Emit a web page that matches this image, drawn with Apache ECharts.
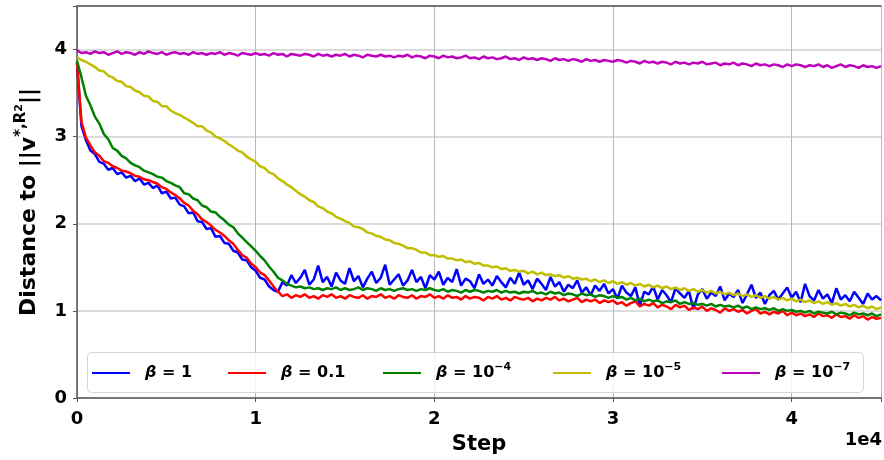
<!DOCTYPE html>
<html><head><meta charset="utf-8">
<script src="https://cdn.jsdelivr.net/npm/echarts@6/dist/echarts.min.js"></script>
<style>html,body{margin:0;padding:0;background:#fff}#c{width:884px;height:460px}</style>
</head><body><div id="c"></div>
<script>
const steps = [0,250,500,750,1000,1250,1500,1750,2000,2250,2500,2750,3000,3250,3500,3750,4000,4250,4500,4750,5000,5250,5500,5750,6000,6250,6500,6750,7000,7250,7500,7750,8000,8250,8500,8750,9000,9250,9500,9750,
10000,10250,10500,10750,11000,11250,11500,11750,12000,12250,12500,12750,13000,13250,13500,13750,14000,14250,14500,14750,15000,15250,15500,15750,16000,16250,16500,16750,17000,17250,17500,17750,18000,18250,18500,18750,19000,19250,19500,19750,
20000,20250,20500,20750,21000,21250,21500,21750,22000,22250,22500,22750,23000,23250,23500,23750,24000,24250,24500,24750,25000,25250,25500,25750,26000,26250,26500,26750,27000,27250,27500,27750,28000,28250,28500,28750,29000,29250,29500,29750,
30000,30250,30500,30750,31000,31250,31500,31750,32000,32250,32500,32750,33000,33250,33500,33750,34000,34250,34500,34750,35000,35250,35500,35750,36000,36250,36500,36750,37000,37250,37500,37750,38000,38250,38500,38750,39000,39250,39500,39750,
40000,40250,40500,40750,41000,41250,41500,41750,42000,42250,42500,42750,43000,43250,43500,43750,44000,44250,44500,44750,45000];

const beta1 = [3.85,3.12,2.96,2.84,2.80,2.71,2.69,2.62,2.64,2.57,2.59,2.53,2.55,2.49,2.52,2.45,2.47,2.41,2.44,2.35,2.37,2.29,2.30,2.22,2.20,2.12,2.13,2.03,2.02,1.94,1.95,1.85,1.86,1.78,1.77,1.69,1.67,1.59,1.58,1.50,
1.46,1.38,1.36,1.28,1.24,1.22,1.33,1.29,1.41,1.32,1.38,1.47,1.30,1.36,1.52,1.33,1.39,1.28,1.44,1.35,1.31,1.49,1.34,1.40,1.27,1.37,1.45,1.32,1.38,1.53,1.30,1.36,1.42,1.29,1.35,1.47,1.33,1.39,1.26,1.41,
1.36,1.45,1.30,1.38,1.33,1.48,1.29,1.37,1.34,1.26,1.42,1.31,1.36,1.29,1.40,1.33,1.27,1.38,1.31,1.44,1.30,1.35,1.25,1.37,1.31,1.24,1.39,1.28,1.33,1.22,1.30,1.26,1.35,1.21,1.27,1.18,1.29,1.23,1.31,1.20,
1.25,1.14,1.29,1.21,1.17,1.27,1.06,1.22,1.19,1.28,1.13,1.24,1.18,1.10,1.26,1.20,1.15,1.23,1.02,1.19,1.25,1.14,1.21,1.17,1.28,1.12,1.20,1.16,1.24,1.09,1.19,1.30,1.15,1.21,1.08,1.18,1.23,1.13,1.20,1.27,
1.15,1.22,1.10,1.31,1.17,1.12,1.24,1.14,1.19,1.09,1.26,1.13,1.18,1.11,1.22,1.15,1.08,1.20,1.13,1.17,1.12];

const beta01 = [3.85,3.17,2.99,2.90,2.82,2.78,2.72,2.70,2.66,2.64,2.61,2.60,2.58,2.55,2.54,2.51,2.50,2.48,2.46,2.42,2.40,2.36,2.33,2.29,2.24,2.21,2.15,2.11,2.05,2.02,1.98,1.93,1.90,1.86,1.81,1.77,1.70,1.64,1.61,1.54,
1.50,1.44,1.41,1.35,1.28,1.22,1.17,1.19,1.15,1.18,1.16,1.19,1.15,1.17,1.14,1.18,1.16,1.19,1.15,1.17,1.14,1.18,1.16,1.15,1.18,1.14,1.17,1.16,1.19,1.15,1.17,1.14,1.18,1.16,1.15,1.18,1.14,1.17,1.16,1.19,
1.15,1.17,1.14,1.18,1.15,1.16,1.13,1.17,1.14,1.16,1.15,1.12,1.16,1.14,1.17,1.13,1.15,1.12,1.16,1.14,1.13,1.15,1.11,1.14,1.12,1.15,1.13,1.16,1.12,1.14,1.11,1.13,1.15,1.10,1.13,1.11,1.13,1.09,1.12,1.10,
1.12,1.08,1.10,1.06,1.09,1.11,1.05,1.08,1.06,1.09,1.04,1.07,1.05,1.02,1.07,1.04,1.06,1.01,1.04,1.02,1.05,1.00,1.03,1.01,0.98,1.03,1.00,1.02,0.99,1.01,0.97,1.00,1.02,0.97,0.99,0.96,0.99,0.97,1.00,0.95,
0.98,0.95,0.97,0.94,0.96,0.93,0.97,0.94,0.95,0.92,0.96,0.93,0.94,0.91,0.95,0.92,0.94,0.90,0.93,0.91,0.92];

const beta1e4 = [3.87,3.68,3.47,3.36,3.23,3.15,3.03,2.97,2.87,2.84,2.78,2.75,2.70,2.67,2.65,2.61,2.59,2.57,2.54,2.53,2.49,2.47,2.44,2.42,2.35,2.34,2.29,2.27,2.21,2.19,2.14,2.13,2.08,2.04,1.99,1.96,1.89,1.84,1.79,1.74,
1.69,1.63,1.58,1.51,1.45,1.38,1.35,1.31,1.29,1.27,1.28,1.26,1.27,1.25,1.26,1.24,1.26,1.25,1.27,1.24,1.26,1.24,1.25,1.27,1.24,1.26,1.25,1.23,1.26,1.24,1.25,1.23,1.25,1.26,1.24,1.25,1.23,1.25,1.24,1.26,
1.24,1.23,1.25,1.22,1.24,1.23,1.21,1.24,1.22,1.24,1.23,1.21,1.23,1.22,1.24,1.21,1.23,1.21,1.22,1.20,1.22,1.21,1.23,1.20,1.21,1.19,1.22,1.20,1.21,1.18,1.20,1.19,1.17,1.20,1.18,1.19,1.16,1.18,1.17,1.15,
1.17,1.15,1.16,1.13,1.15,1.12,1.14,1.11,1.13,1.11,1.12,1.09,1.11,1.10,1.12,1.08,1.10,1.08,1.09,1.07,1.08,1.06,1.08,1.05,1.07,1.05,1.06,1.04,1.06,1.03,1.05,1.02,1.04,1.02,1.03,1.01,1.03,1.00,1.02,1.00,
1.01,0.99,1.00,0.98,1.00,0.97,0.99,0.98,0.97,0.99,0.96,0.98,0.97,0.95,0.98,0.96,0.97,0.95,0.97,0.94,0.96];

const beta1e5 = [3.91,3.88,3.86,3.83,3.80,3.76,3.75,3.70,3.68,3.64,3.63,3.58,3.57,3.53,3.51,3.47,3.46,3.41,3.40,3.35,3.35,3.30,3.27,3.25,3.22,3.19,3.16,3.12,3.12,3.07,3.05,3.00,2.98,2.95,2.91,2.88,2.84,2.82,2.77,2.74,
2.71,2.66,2.64,2.59,2.57,2.52,2.49,2.45,2.42,2.38,2.34,2.31,2.27,2.25,2.20,2.18,2.14,2.12,2.08,2.06,2.03,2.01,1.97,1.96,1.94,1.90,1.89,1.86,1.85,1.82,1.81,1.78,1.77,1.75,1.72,1.72,1.70,1.67,1.67,1.64,
1.64,1.62,1.63,1.60,1.60,1.58,1.59,1.56,1.57,1.54,1.55,1.52,1.52,1.50,1.51,1.48,1.49,1.46,1.47,1.45,1.46,1.43,1.45,1.42,1.44,1.41,1.42,1.40,1.41,1.38,1.40,1.37,1.38,1.36,1.37,1.34,1.36,1.33,1.35,1.32,
1.34,1.31,1.33,1.30,1.32,1.29,1.31,1.28,1.30,1.27,1.29,1.26,1.28,1.25,1.27,1.24,1.26,1.23,1.25,1.22,1.24,1.21,1.23,1.20,1.22,1.19,1.21,1.18,1.20,1.17,1.19,1.16,1.18,1.15,1.17,1.14,1.16,1.13,1.15,1.12,
1.14,1.11,1.13,1.10,1.12,1.09,1.11,1.08,1.10,1.07,1.09,1.06,1.08,1.05,1.07,1.04,1.06,1.03,1.05,1.02,1.04];

const beta1e7 = [3.99,3.96,3.97,3.95,3.98,3.96,3.97,3.94,3.96,3.98,3.95,3.97,3.96,3.94,3.97,3.95,3.98,3.96,3.95,3.97,3.94,3.96,3.97,3.95,3.96,3.94,3.97,3.95,3.96,3.94,3.96,3.95,3.97,3.94,3.96,3.95,3.93,3.96,3.95,3.94,
3.96,3.94,3.95,3.93,3.96,3.94,3.95,3.92,3.95,3.94,3.93,3.95,3.94,3.92,3.95,3.93,3.94,3.92,3.94,3.93,3.95,3.92,3.94,3.93,3.91,3.94,3.93,3.92,3.94,3.92,3.93,3.91,3.93,3.92,3.94,3.91,3.93,3.92,3.90,3.93,
3.92,3.90,3.93,3.91,3.92,3.90,3.91,3.93,3.90,3.91,3.89,3.92,3.90,3.91,3.89,3.90,3.92,3.89,3.90,3.88,3.91,3.89,3.90,3.88,3.90,3.89,3.87,3.90,3.88,3.89,3.87,3.89,3.88,3.86,3.89,3.87,3.88,3.86,3.88,3.87,
3.86,3.88,3.87,3.85,3.87,3.86,3.84,3.87,3.85,3.86,3.84,3.86,3.85,3.83,3.86,3.84,3.85,3.83,3.85,3.84,3.86,3.83,3.84,3.85,3.82,3.84,3.83,3.85,3.82,3.84,3.83,3.81,3.84,3.82,3.83,3.81,3.83,3.82,3.80,3.83,
3.81,3.83,3.82,3.80,3.82,3.81,3.83,3.80,3.82,3.79,3.81,3.83,3.80,3.82,3.81,3.79,3.82,3.80,3.81,3.79,3.81];

const seriesNames = ['β=1','β=0.1','β=1e-4','β=1e-5','β=1e-7'];
const seriesValues = [beta1, beta01, beta1e4, beta1e5, beta1e7];
const seriesColors = ['#0000ff','#ff0000','#008000','#bfbf00','#bf00bf'];
const legendLabels = ['{b|β}{t| = 1}{s| }','{b|β}{t| = 0.1}{s| }','{b|β}{t| = 10}{s|−4}','{b|β}{t| = 10}{s|−5}','{b|β}{t| = 10}{s|−7}'];
const xTickLabels = ['0','1','2','3','4'];
const yTickLabels = ['0','1','2','3','4'];

const FF = 'DejaVu Sans';
const chart = echarts.init(document.getElementById('c'), null, {renderer:'canvas'});

const legendLefts = [92, 228, 383, 553, 722];
const legends = seriesNames.map((n, i) => ({
  data: [n], left: legendLefts[i], top: 362, padding: 0,
  icon: 'rect', itemWidth: 38, itemHeight: 2, z: 10,
  formatter: () => legendLabels[i],
  textStyle: {
    fontFamily: FF, fontSize: 16, fontWeight: 'bold', color: '#000', padding: [0,0,0,10],
    rich: {
      b: {fontFamily: FF, fontSize: 16, fontWeight: 'bold', fontStyle: 'italic', color: '#000', lineHeight: 22},
      t: {fontFamily: FF, fontSize: 16, fontWeight: 'bold', color: '#000', lineHeight: 22},
      s: {fontFamily: FF, fontSize: 11, fontWeight: 'bold', color: '#000', verticalAlign: 'top', lineHeight: 12}
    }
  }
}));

chart.setOption({
  animation: false,
  backgroundColor: '#fff',
  grid: {left: 77, right: 0, top: 6, bottom: 59, containLabel: false},
  legend: legends,
  xAxis: [{
    type: 'value', min: 0, max: 45000, interval: 10000,
    name: 'Step', nameLocation: 'middle', nameGap: 36,
    nameTextStyle: {fontFamily: FF, fontSize: 21, fontWeight: 'bold', color: '#000'},
    axisLine: {show: true, lineStyle: {color: '#555', width: 1.5}},
    axisTick: {show: true, length: 4, lineStyle: {color: '#555'}},
    axisLabel: {fontFamily: FF, fontSize: 18, fontWeight: 'bold', color: '#000', margin: 12,
      formatter: v => (v % 10000 === 0 ? xTickLabels[v / 10000] : '')},
    splitLine: {show: true, lineStyle: {color: '#b8b8b8', width: 1}}
  }, {
    type: 'value', position: 'top', min: 0, max: 45000,
    axisLine: {show: true, lineStyle: {color: '#555', width: 1.5}},
    axisTick: {show: false}, axisLabel: {show: false}, splitLine: {show: false}
  }],
  yAxis: {
    type: 'value', min: 0, max: 4.5, interval: 1,
    name: 'Distance to ||{v|v}{s|*,R}{ss|2}||', nameLocation: 'middle', nameGap: 33, nameRotate: 90,
    nameTextStyle: {
      fontFamily: FF, fontSize: 22, fontWeight: 'bold', color: '#000',
      rich: {
        v: {fontFamily: FF, fontSize: 22, fontWeight: 'bold', color: '#000', lineHeight: 30},
        s: {fontFamily: FF, fontSize: 15, fontWeight: 'bold', color: '#000', verticalAlign: 'top', lineHeight: 22},
        ss: {fontFamily: FF, fontSize: 11, fontWeight: 'bold', color: '#000', verticalAlign: 'top', lineHeight: 14}
      }
    },
    axisLine: {show: true, lineStyle: {color: '#555', width: 1.5}},
    axisTick: {show: true, length: 4, lineStyle: {color: '#555'}},
    axisLabel: {fontFamily: FF, fontSize: 18, fontWeight: 'bold', color: '#000', margin: 10,
      formatter: v => (v % 1 === 0 ? yTickLabels[v] : '')},
    splitLine: {show: true, lineStyle: {color: '#cfcfcf', width: 1.5}}
  },
  graphic: [
    {type: 'rect', left: 87, top: 352, z: 5, shape: {width: 776, height: 40, r: 4},
      style: {fill: 'rgba(255,255,255,0.8)', stroke: '#d4d4d4', lineWidth: 1}},
    {type: 'text', right: 2, top: 431, z: 5,
      style: {text: '1e4', fontFamily: FF, fontSize: 18, fontWeight: 'bold', fill: '#000'}}
  ],
  series: seriesNames.map((n, i) => ({
    name: n, type: 'line', xAxisIndex: 0, symbol: 'none', showSymbol: false,
    color: seriesColors[i],
    lineStyle: {width: 2.5, color: seriesColors[i]},
    data: steps.map((s, k) => [s, seriesValues[i][k]]),
    z: 2 + i * 0.1
  }))
});
</script></body></html>
